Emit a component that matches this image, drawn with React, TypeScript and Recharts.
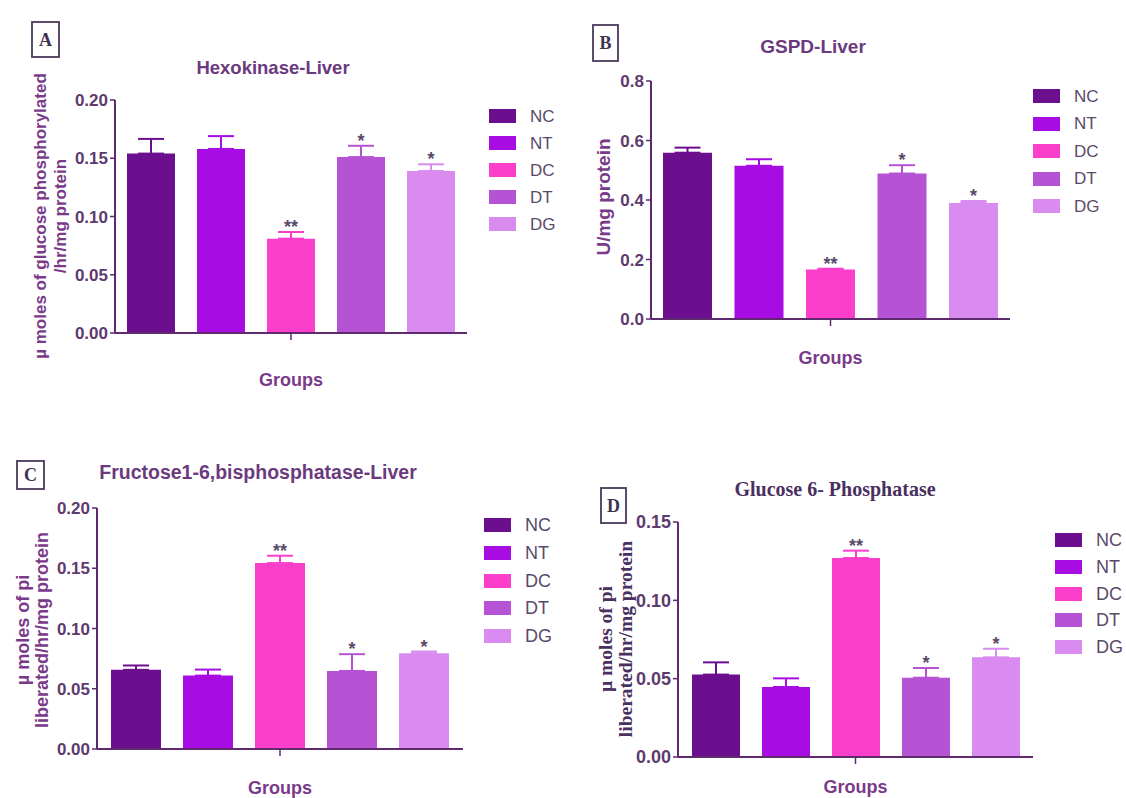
import React from "react";
import { BarChart, Bar, XAxis, YAxis, ErrorBar, LabelList, Legend } from "recharts";

// groups shown in every panel
const groups = ["NC", "NT", "DC", "DT", "DG"];
const groupColors = ["#6c0f8e", "#a70de2", "#fb3fcb", "#b553d4", "#d98bf0"];

// A - Hexokinase (liver)
const hexokinaseMean = [0.154, 0.158, 0.081, 0.151, 0.139];
const hexokinaseSem = [0.0126, 0.011, 0.0057, 0.0097, 0.0058];
const hexokinaseSig = ["", "", "**", "*", "*"];
const hexokinaseTicks = [0, 0.05, 0.1, 0.15, 0.2];

// B - G6PD (liver)
const g6pdMean = [0.559, 0.515, 0.166, 0.489, 0.39];
const g6pdSem = [0.017, 0.022, 0.003, 0.028, 0.0066];
const g6pdSig = ["", "", "**", "*", "*"];
const g6pdTicks = [0, 0.2, 0.4, 0.6, 0.8];

// C - Fructose 1,6-bisphosphatase (liver)
const fbpaseMean = [0.0657, 0.0609, 0.1543, 0.0648, 0.0795];
const fbpaseSem = [0.0036, 0.005, 0.0061, 0.0139, 0.0014];
const fbpaseSig = ["", "", "**", "*", "*"];
const fbpaseTicks = [0, 0.05, 0.1, 0.15, 0.2];

// D - Glucose 6-phosphatase
const g6paseMean = [0.0526, 0.0447, 0.127, 0.0506, 0.0636];
const g6paseSem = [0.0078, 0.0055, 0.0047, 0.0062, 0.0055];
const g6paseSig = ["", "", "**", "*", "*"];
const g6paseTicks = [0, 0.05, 0.1, 0.15];

const SANS = "'Liberation Sans', Arial, sans-serif";
const SERIF = "'Liberation Serif', 'Times New Roman', serif";
const AXIS = "#5e2a6e";
const Y_AXIS_W = 60;
const X_AXIS_H = 30;

const panels = [
  {
    key: "A", letter: "A", box: [32, 22, 27, 35],
    title: "Hexokinase-Liver", titleX: 273, titleY: 67, titleSize: 18.5, serif: false,
    caption: ["µ moles of glucose phosphorylated", "/hr/mg protein"], capX: [40, 60], capY: 216, capSize: 17,
    left: 0, top: 0, width: 560, height: 420,
    plot: { x1: 115, x2: 467, y1: 100, y2: 333 }, groupsY: 379,
    ticks: hexokinaseTicks, digits: 2, tickSize: 17,
    mean: hexokinaseMean, sem: hexokinaseSem, sig: hexokinaseSig,
    barSize: 48, barGap: 22,
    legend: { x: 489, cy: 116, step: 27, font: 17 },
  },
  {
    key: "B", letter: "B", box: [593, 25, 25, 36],
    title: "GSPD-Liver", titleX: 813, titleY: 46, titleSize: 19, serif: false,
    caption: ["U/mg protein"], capX: [603], capY: 197, capSize: 19,
    left: 560, top: 0, width: 566, height: 420,
    plot: { x1: 651, x2: 1010, y1: 81, y2: 319 }, groupsY: 357,
    ticks: g6pdTicks, digits: 1, tickSize: 17,
    mean: g6pdMean, sem: g6pdSem, sig: g6pdSig,
    barSize: 49, barGap: 22.5,
    legend: { x: 1033, cy: 96, step: 27.5, font: 17 },
  },
  {
    key: "C", letter: "C", box: [17, 461, 27, 28],
    title: "Fructose1-6,bisphosphatase-Liver", titleX: 258, titleY: 472, titleSize: 19.5, serif: false,
    caption: ["µ moles of pi", "liberated/hr/mg protein"], capX: [23, 42], capY: 630, capSize: 18,
    left: 0, top: 420, width: 560, height: 378,
    plot: { x1: 97, x2: 463, y1: 508, y2: 749 }, groupsY: 787,
    ticks: fbpaseTicks, digits: 2, tickSize: 17,
    mean: fbpaseMean, sem: fbpaseSem, sig: fbpaseSig,
    barSize: 50, barGap: 22,
    legend: { x: 484, cy: 525, step: 27.75, font: 18 },
  },
  {
    key: "D", letter: "D", box: [601, 488, 25, 35],
    title: "Glucose 6- Phosphatase", titleX: 835, titleY: 489, titleSize: 20, serif: true,
    caption: ["µ moles of pi", "liberated/hr/mg protein"], capX: [605, 625], capY: 639, capSize: 19.5,
    left: 560, top: 420, width: 566, height: 378,
    plot: { x1: 678, x2: 1033, y1: 522, y2: 757 }, groupsY: 786,
    ticks: g6paseTicks, digits: 2, tickSize: 18,
    mean: g6paseMean, sem: g6paseSem, sig: g6paseSig,
    barSize: 48, barGap: 22,
    legend: { x: 1055, cy: 540, step: 26.75, font: 18 },
  },
];

type PanelCfg = (typeof panels)[number];

function buildRow(p: PanelCfg) {
  const row: Record<string, any> = { group: "Groups" };
  groups.forEach((g, i) => {
    row[g] = p.mean[i];
    row[g + "_err"] = [0, p.sem[i]];
  });
  return [row];
}

const starLabel = (p: PanelCfg, i: number) => (props: any) => {
  const vb = props.viewBox ?? props;
  const x = Number(vb.x ?? props.x);
  const y = Number(vb.y ?? props.y);
  const w = Number(vb.width ?? props.width);
  const h = Number(vb.height ?? props.height);
  if (!p.sig[i] || !isFinite(x)) return null;
  // error bar length in pixels, from the bar's own scale
  const errPx = (Math.abs(h) * p.sem[i]) / p.mean[i];
  return (
    <text
      x={x + w / 2}
      y={y - errPx + 1}
      textAnchor="middle"
      fontFamily={SANS}
      fontWeight={700}
      fontSize={18}
      fill="#5a4a6a"
    >
      {p.sig[i]}
    </text>
  );
};

const legendContent = (p: PanelCfg) => (props: any) => {
  const items = [...(props.payload ?? [])].sort(
    (a: any, b: any) => groups.indexOf(a.value) - groups.indexOf(b.value)
  );
  return (
    <div>
      {items.map((it: any) => (
        <div
          key={it.value}
          style={{ display: "flex", alignItems: "center", height: p.legend.step }}
        >
          <span
            style={{ display: "inline-block", width: 27, height: 14, background: it.color, marginRight: 14 }}
          />
          <span style={{ fontFamily: SANS, fontSize: p.legend.font, color: "#5a4a6a", lineHeight: 1 }}>
            {it.value}
          </span>
        </div>
      ))}
    </div>
  );
};

function PanelChart({ p }: { p: PanelCfg }) {
  const data = buildRow(p);
  const margin = {
    left: p.plot.x1 - p.left - Y_AXIS_W,
    right: p.left + p.width - p.plot.x2,
    top: p.plot.y1 - p.top,
    bottom: p.top + p.height - p.plot.y2 - X_AXIS_H,
  };
  const tickMargin = p.groupsY - p.plot.y2 - 12.4;
  const max = p.ticks[p.ticks.length - 1];
  return (
    <div style={{ position: "absolute", left: p.left, top: p.top }}>
      <BarChart
        width={p.width}
        height={p.height}
        data={data}
        margin={margin}
        barSize={p.barSize}
        barGap={p.barGap}
      >
        <XAxis
          dataKey="group"
          height={X_AXIS_H}
          axisLine={{ stroke: AXIS, strokeWidth: 2 }}
          tickLine={{ stroke: AXIS, strokeWidth: 1.5 }}
          tickSize={7}
          tickMargin={tickMargin}
          tick={{ fill: "#7a3a8a", fontSize: 18, fontWeight: 700, fontFamily: SANS }}
        />
        <YAxis
          type="number"
          width={Y_AXIS_W}
          domain={[0, max]}
          ticks={p.ticks}
          interval={0}
          allowDataOverflow
          tickFormatter={(v: number) => v.toFixed(p.digits)}
          axisLine={{ stroke: AXIS, strokeWidth: 2 }}
          tickLine={{ stroke: AXIS, strokeWidth: 1.5 }}
          tickSize={5}
          tickMargin={2}
          tick={{ fill: "#5e3a6e", fontSize: p.tickSize, fontWeight: 700, fontFamily: SANS }}
        />
        <Legend
          layout="vertical"
          align="center"
          verticalAlign="middle"
          wrapperStyle={{
            left: p.legend.x - p.left,
            top: p.legend.cy - p.top - p.legend.step / 2,
            width: "auto",
            height: "auto",
          }}
          content={legendContent(p)}
        />
        {groups.map((g, i) => (
          <Bar key={g} dataKey={g} name={g} fill={groupColors[i]} isAnimationActive={false}>
            <ErrorBar
              dataKey={g + "_err"}
              width={13}
              strokeWidth={2}
              stroke={groupColors[i]}
              isAnimationActive={false}
            />
            <LabelList dataKey={g} content={starLabel(p, i)} />
          </Bar>
        ))}
      </BarChart>
    </div>
  );
}

function Decorations() {
  return (
    <svg
      width={1126}
      height={798}
      style={{ position: "absolute", left: 0, top: 0 }}
    >
      {panels.map((p) => {
        const fam = p.serif ? SERIF : SANS;
        const [bx, by, bw, bh] = p.box;
        return (
          <g key={p.key}>
            <rect x={bx} y={by} width={bw} height={bh} fill="none" stroke="#4a3a5a" strokeWidth={1.8} />
            <text
              x={bx + bw / 2}
              y={by + bh / 2}
              textAnchor="middle"
              dominantBaseline="central"
              fontFamily={SERIF}
              fontWeight={700}
              fontSize={18}
              fill="#3e3450"
            >
              {p.letter}
            </text>
            <text
              x={p.titleX}
              y={p.titleY}
              textAnchor="middle"
              dominantBaseline="central"
              fontFamily={fam}
              fontWeight={700}
              fontSize={p.titleSize}
              fill={p.serif ? "#4a3060" : "#6b3a7e"}
            >
              {p.title}
            </text>
            {p.caption.map((line, i) => (
              <text
                key={i}
                x={p.capX[i]}
                y={p.capY}
                transform={`rotate(-90 ${p.capX[i]} ${p.capY})`}
                textAnchor="middle"
                dominantBaseline="central"
                fontFamily={fam}
                fontWeight={700}
                fontSize={p.capSize}
                fill={p.serif ? "#4a3060" : "#7a3a8a"}
              >
                {line}
              </text>
            ))}
          </g>
        );
      })}
    </svg>
  );
}

export default function App() {
  return (
    <div
      style={{
        position: "absolute",
        left: 0,
        top: 0,
        width: 1126,
        height: 798,
        background: "#ffffff",
        overflow: "hidden",
      }}
    >
      <Decorations />
      {panels.map((p) => (
        <PanelChart key={p.key} p={p} />
      ))}
    </div>
  );
}
